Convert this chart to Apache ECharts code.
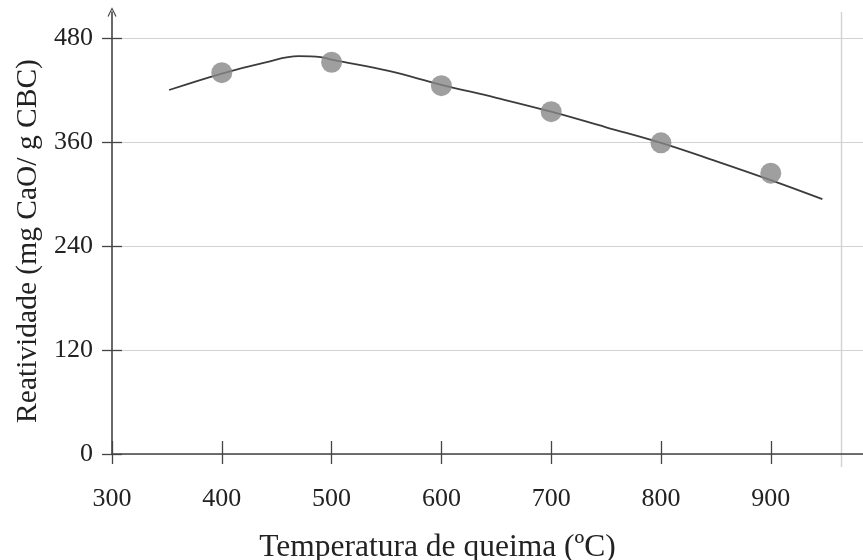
<!DOCTYPE html>
<html>
<head>
<meta charset="utf-8">
<script src="https://cdn.jsdelivr.net/npm/echarts@6/dist/echarts.min.js"></script>
<style>html,body{margin:0;padding:0;background:#fff;}#c{width:863px;height:560px;}</style>
</head>
<body>
<div id="c"></div>
<script>
// Data
const xTicks = [300, 400, 500, 600, 700, 800, 900];
const yTicks = [0, 120, 240, 360, 480];
const pointTemps = [400, 500, 600, 700, 800, 900];
const pointReactivity = [440, 452, 425, 395, 359, 324];
const curveTemps = [352, 400, 440, 470, 490, 500, 552, 600, 650, 700, 750, 800, 850, 900, 947];
const curveReactivity = [420, 439, 452, 459, 458, 455, 442, 426, 411, 395, 377, 359, 338, 316, 294];
const frameX = [964];
const xTitle = 'Temperatura de queima (ºC)';
const yTitle = 'Reatividade (mg CaO/ g CBC)';

const FONT = '"Liberation Serif", "Times New Roman", serif';
const axisColor = '#444';
const gridColor = '#d2d2d2';
const xMin = 300, xMax = 984, yMin = 0, yMax = 510;

const chart = echarts.init(document.getElementById('c'));
chart.setOption({
  animation: false,
  backgroundColor: '#fff',
  grid: { left: 112, right: 0, top: 12, bottom: 106, containLabel: false, outerBoundsMode: 'none' },
  xAxis: [
    {
      type: 'value', min: xMin, max: xMax,
      name: xTitle, nameLocation: 'middle', nameGap: 78,
      nameTextStyle: { fontFamily: FONT, fontSize: 31.5, color: '#222', padding: [0, 100, 0, 0] },
      axisLine: { show: true, lineStyle: { color: axisColor, width: 1.6 } },
      axisTick: { show: true, length: 10, customValues: xTicks, lineStyle: { color: axisColor, width: 1.3 } },
      axisLabel: { customValues: xTicks, margin: 32, fontFamily: FONT, fontSize: 26, color: '#222' },
      splitLine: { show: false },
      z: 3
    },
    {
      type: 'value', min: xMin, max: xMax, position: 'bottom',
      axisLine: { show: false },
      axisTick: { show: true, inside: true, length: 13, customValues: xTicks, lineStyle: { color: axisColor, width: 1.3 } },
      axisLabel: { show: false },
      splitLine: { show: false },
      z: 3
    },
    {
      type: 'value', min: xMin, max: xMax, position: 'bottom',
      axisLine: { show: false },
      axisTick: { show: true, length: 13, customValues: frameX, lineStyle: { color: gridColor, width: 1.4 } },
      axisLabel: { show: false },
      splitLine: { show: true, lineStyle: { color: gridColor, width: 1.4 } },
      z: 1
    }
  ],
  yAxis: [
    {
      type: 'value', min: yMin, max: yMax,
      name: yTitle, nameLocation: 'middle', nameGap: 66, nameRotate: 90,
      nameTextStyle: { fontFamily: FONT, fontSize: 29.5, color: '#222', padding: [0, 16, 0, 0] },
      axisLine: {
        show: true,
        symbol: ['none', 'path://M0,10 L5,0 L10,10 L8.8,10.6 L5,2.6 L1.2,10.6 Z'],
        symbolSize: [9, 11],
        lineStyle: { color: axisColor, width: 1.6 }
      },
      axisTick: { show: true, length: 10, customValues: yTicks, lineStyle: { color: axisColor, width: 1.3 } },
      axisLabel: { customValues: yTicks, margin: 19, fontFamily: FONT, fontSize: 26, color: '#222' },
      splitLine: { show: true, lineStyle: { color: gridColor, width: 1.2 } }
    },
    {
      type: 'value', min: yMin, max: yMax, position: 'left',
      axisLine: { show: false },
      axisTick: { show: true, inside: true, length: 10, customValues: yTicks, lineStyle: { color: axisColor, width: 1.3 } },
      axisLabel: { show: false },
      splitLine: { show: false }
    }
  ],
  series: [
    {
      type: 'line',
      data: curveTemps.map((t, i) => [t, curveReactivity[i]]),
      smooth: 0.4,
      showSymbol: false,
      lineStyle: { color: '#3c3c3c', width: 1.8 },
      z: 2
    },
    {
      type: 'scatter',
      data: pointTemps.map((t, i) => [t, pointReactivity[i]]),
      symbol: 'circle', symbolSize: 21,
      itemStyle: { color: '#878787' },
      z: 3
    }
  ]
});
</script>
</body>
</html>
